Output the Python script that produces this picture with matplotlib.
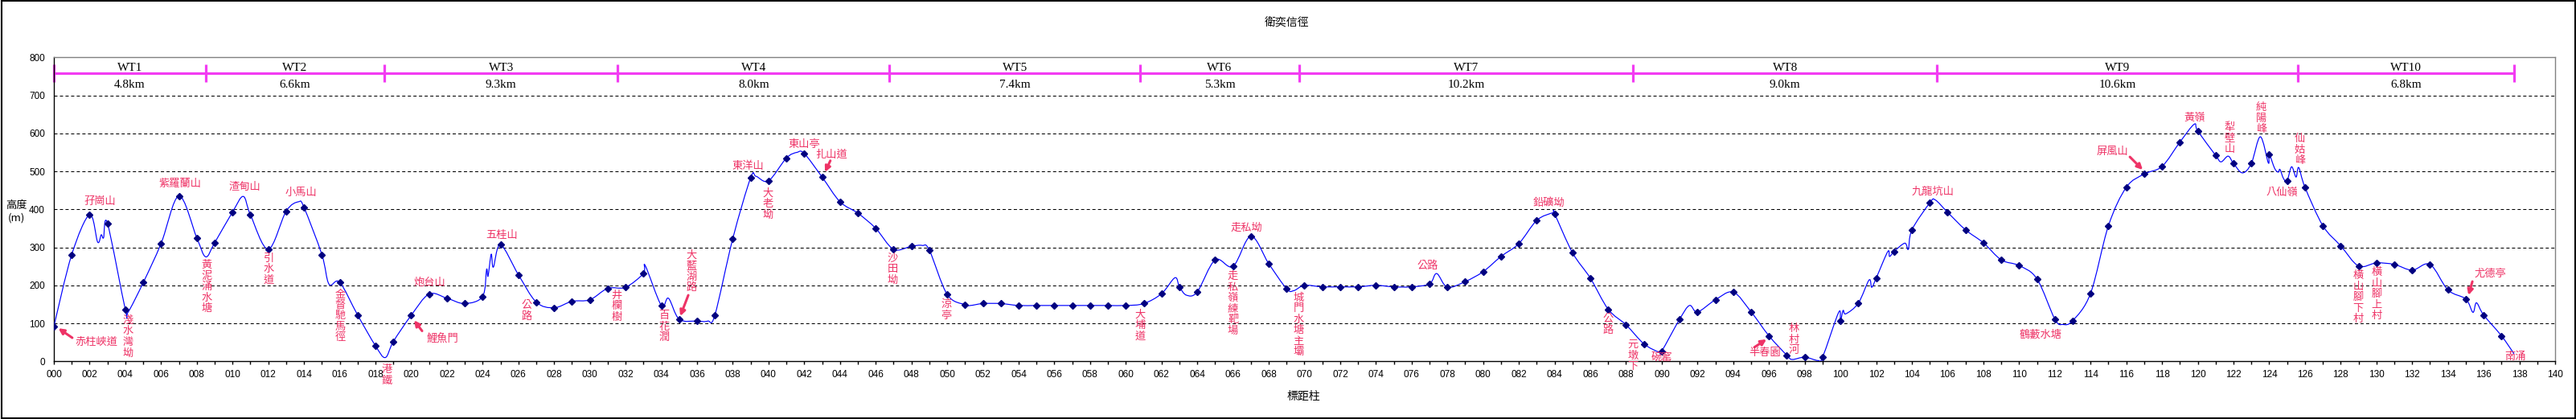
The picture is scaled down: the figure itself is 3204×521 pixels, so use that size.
import matplotlib
matplotlib.use("Agg")
import matplotlib.pyplot as plt
from matplotlib.path import Path
from matplotlib.patches import PathPatch, Rectangle
from matplotlib import font_manager
import numpy as np

# ---------------- data ----------------
title = "衛奕信徑"
xlabel = "標距柱"
ylabel = "高度\n(m)"

# elevation at each distance post (marker points)
post_x = list(range(0, 138))
post_h = [92, 281, 386, 363, 136, 207, 310, 435, 325, 312,
          393, 386, 295, 395, 405, 281, 208, 122, 41, 52,
          121, 177, 166, 152, 171, 307, 228, 156, 141, 158,
          162, 192, 195, 231, 147, 111, 106, 122, 323, 483,
          475, 535, 547, 485, 420, 390, 350, 295, 303, 293,
          176, 149, 152, 152, 147, 147, 147, 147, 147, 147,
          147, 152, 178, 196, 183, 267, 250, 329, 257, 191,
          200, 196, 196, 196, 200, 196, 196, 204, 195, 210,
          236, 276, 310, 371, 388, 286, 219, 137, 96, 46,
          27, 111, 130, 162, 182, 130, 67, 16, 11, 11,
          107, 153, 219, 289, 346, 417, 392, 346, 312, 267,
          252, 217, 111, 107, 179, 357, 458, 493, 513, 577,
          606, 542, 521, 521, 545, 475, 458, 357, 304, 251,
          259, 255, 240, 255, 188, 164, 122, 67]

# additional profile vertices between posts (unmarked)
extra_x = [2.45, 2.65, 2.78, 4.15, 8.5, 10.6, 13.7, 15.4, 18.55,
           24.22, 24.3, 24.48, 24.6, 33.1, 34.4, 36.6, 39.3, 41.6,
           48.6, 51.3, 62.75, 63.4, 69.4, 77.4, 83.9, 89.85, 91.55,
           97.3, 98.75, 99.9, 100.15, 100.3, 101.6, 101.75, 102.65, 102.75,
           103.6, 103.8, 105.3, 112.45, 119.8, 121.3, 121.7, 122.5,
           123.5, 123.95, 124.3, 124.5, 124.6, 124.8, 125.25, 125.5, 125.65,
           135.4, 135.6, 137.7]
extra_h = [314, 333, 325, 129, 275, 434, 420, 203, 10,
           242, 224, 282, 248, 252, 166, 106, 487, 550,
           305, 147, 220, 174, 186, 231, 391, 24, 147,
           5, 2, 129, 134, 125, 214, 195, 289, 276,
           311, 295, 425, 97, 624, 525, 540, 496,
           591, 522, 508, 498, 505, 481, 512, 485, 510,
           129, 154, 20]

# trail sections
sec_names = ["WT1", "WT2", "WT3", "WT4", "WT5", "WT6", "WT7", "WT8", "WT9", "WT10"]
sec_len = ["4.8km", "6.6km", "9.3km", "8.0km", "7.4km", "5.3km", "10.2km", "9.0km", "10.6km", "6.8km"]
sec_bounds = [0, 8.5, 18.5, 31.56, 46.77, 60.8, 69.7, 88.4, 105.4, 125.6, 137.7]

# place names: (text, x, y) horizontal
h_labels = [("赤柱峽道", 2.39, 51), ("孖崗山", 2.57, 422), ("紫羅蘭山", 7.07, 468),
            ("渣甸山", 10.67, 460), ("小馬山", 13.82, 445), ("炮台山", 21.02, 208),
            ("鯉魚門", 21.74, 58), ("五桂山", 25.07, 331), ("東洋山", 38.84, 513),
            ("東山亭", 41.99, 570), ("扎山道", 43.52, 545), ("走私坳", 66.74, 352),
            ("公路", 76.91, 251), ("鉛礦坳", 83.66, 414), ("碗窰", 90.01, 11),
            ("半春園", 95.77, 22), ("九龍坑山", 105.18, 447), ("鶴藪水塘", 111.2, 71),
            ("屏風山", 115.21, 553), ("黃嶺", 119.85, 642), ("八仙嶺", 124.71, 445),
            ("尤德亭", 136.36, 230), ("南涌", 137.76, 13)]
# vertical place names: (text, x, y centre)
v_labels = [("淺水灣坳", 4.14, 65), ("黃泥涌水塘", 8.55, 196), ("引水道", 12.02, 242),
            ("金督馳馬徑", 16.02, 120), ("港鐵", 18.63, -36), ("公路", 26.46, 133),
            ("井欄樹", 31.5, 145), ("百花潤", 34.16, 91), ("大藍湖路", 35.69, 237),
            ("大老坳", 39.96, 414), ("沙田坳", 46.94, 242), ("涼亭", 49.95, 135),
            ("大埔道", 60.8, 94), ("走私嶺練靶場", 66.0, 152), ("城門水塘主壩", 69.67, 96),
            ("公路", 87.0, 97), ("元墩下", 88.39, 15), ("林村河", 97.39, 57),
            ("犁壁山", 121.78, 586), ("純陽峰", 123.54, 639), ("仙姑峰", 125.7, 557),
            ("橫山腳下村", 128.98, 168), ("橫山腳上村", 130.0, 177)]
# arrows: (tail x, tail y, head x, head y)
arrows = [(1.03, 62, 0.25, 87), (20.61, 80, 20.16, 108), (43.46, 528, 43.16, 498),
          (35.51, 174, 35.06, 119), (95.18, 37, 95.86, 58), (116.2, 538, 116.92, 504),
          (135.37, 210, 135.15, 174)]

# ---------------- styles ----------------
CJK = ["Noto Sans CJK TC", "DejaVu Sans"]
LABEL_C = "#EE3366"
MAG = "#F23CF2"
W, H = 3205, 521


def pick_font(cands):
    for c in cands:
        try:
            font_manager.findfont(font_manager.FontProperties(family=c),
                                  fallback_to_default=False)
            return c
        except Exception:
            pass
    return "DejaVu Sans"


TICKF = pick_font(["Liberation Sans Narrow", "Liberation Sans"])
TICKFS = 9.5 if TICKF == "Liberation Sans Narrow" else 8.5

fig = plt.figure(figsize=(W / 100, H / 100), dpi=100)
fig.patch.set_facecolor("white")
ax = fig.add_axes([67 / W, 1 - 449.3 / H, (3178 - 67) / W, (449.3 - 71.3) / H])
ax.set_xlim(0, 140)
ax.set_ylim(0, 800)

# grid
for yv in range(100, 800, 100):
    ax.axhline(yv, color="black", lw=0.75, ls=(0, (3.8, 2.9)), zorder=1)

# smoothed profile (Catmull-Rom -> cubic Bezier)
px = np.array(post_x + extra_x, dtype=float)
py = np.array(post_h + extra_h, dtype=float)
order = np.argsort(px)
P = np.column_stack([px[order], py[order]])
n = len(P)
verts = [tuple(P[0])]
codes = [Path.MOVETO]
for i in range(n - 1):
    p0 = P[i - 1] if i > 0 else P[i]
    p1 = P[i]
    p2 = P[i + 1]
    p3 = P[i + 2] if i + 2 < n else P[i + 1]
    c1 = p1 + (p2 - p0) / 6.0
    c2 = p2 - (p3 - p1) / 6.0
    verts += [tuple(c1), tuple(c2), tuple(p2)]
    codes += [Path.CURVE4] * 3
ax.add_patch(PathPatch(Path(verts, codes), facecolor="none", edgecolor="#0000FF",
                       lw=0.85, zorder=3))
ax.plot(post_x, post_h, ls="none", marker="D", ms=4.2, color="#000080", zorder=4)

# section bar
ax.plot([sec_bounds[0], sec_bounds[-1]], [758, 758], color=MAG, lw=2.3,
        solid_capstyle="butt", zorder=2, clip_on=False)
for b in sec_bounds:
    ax.plot([b, b], [734, 781], color=MAG, lw=2.3, solid_capstyle="butt", zorder=2, clip_on=False)
for i, nm in enumerate(sec_names):
    cx = (sec_bounds[i] + sec_bounds[i + 1]) / 2
    ax.text(cx, 772, nm, ha="center", va="center", fontsize=11,
            family="Liberation Serif", zorder=5)
    ax.text(cx, 728, sec_len[i], ha="center", va="center", fontsize=11,
            family="Liberation Serif", zorder=5)

# place labels
for t, x, y in h_labels:
    ax.text(x, y, t, ha="center", va="center", fontsize=9.5, color=LABEL_C,
            family=CJK, zorder=6, clip_on=False)
pitch = 13.5 * 0.72  # points
for t, x, y in v_labels:
    m = len(t)
    for k, ch in enumerate(t):
        ax.annotate(ch, xy=(x, y), xytext=(0, ((m - 1) / 2 - k) * pitch),
                    textcoords="offset points", ha="center", va="center",
                    fontsize=9.5, color=LABEL_C, family=CJK, zorder=6,
                    annotation_clip=False)
for tx, ty, hx, hy in arrows:
    ax.annotate("", xy=(hx, hy), xytext=(tx, ty),
                arrowprops=dict(arrowstyle="-|>,head_length=0.4,head_width=0.2",
                                lw=2.2, color=LABEL_C, shrinkA=0, shrinkB=0),
                zorder=6, annotation_clip=False)

# axes styling
for s in ["top", "right"]:
    ax.spines[s].set_color("#808080")
    ax.spines[s].set_linewidth(1.0)
for s in ["left", "bottom"]:
    ax.spines[s].set_color("black")
    ax.spines[s].set_linewidth(1.0)

ax.set_xticks(range(0, 141, 2))
ax.set_xticks(range(0, 141, 1), minor=True)
ax.set_xticklabels(["%03d" % v for v in range(0, 141, 2)])
ax.set_yticks(range(0, 801, 100))
ax.tick_params(axis="x", which="both", direction="out", length=3, width=1, pad=5,
               labelsize=TICKFS)
ax.tick_params(axis="y", length=0, pad=8, labelsize=TICKFS)
for lab in ax.get_xticklabels() + ax.get_yticklabels():
    lab.set_family([TICKF, "DejaVu Sans"])

fig.text(1601 / W, 1 - 28 / H, title, ha="center", va="center", fontsize=10, family=CJK)
fig.text(1621 / W, 1 - 493 / H, xlabel, ha="center", va="center", fontsize=10, family=CJK)
fig.text(20 / W, 1 - 263 / H, ylabel, ha="center", va="center", fontsize=9.5, family=CJK,
         linespacing=1.3)

# outer border
fig.patches.append(Rectangle((0.0005, 0.002), 0.999, 0.996, transform=fig.transFigure,
                             fill=False, edgecolor="black", lw=1.5))

fig.savefig("out.png", dpi=100)
